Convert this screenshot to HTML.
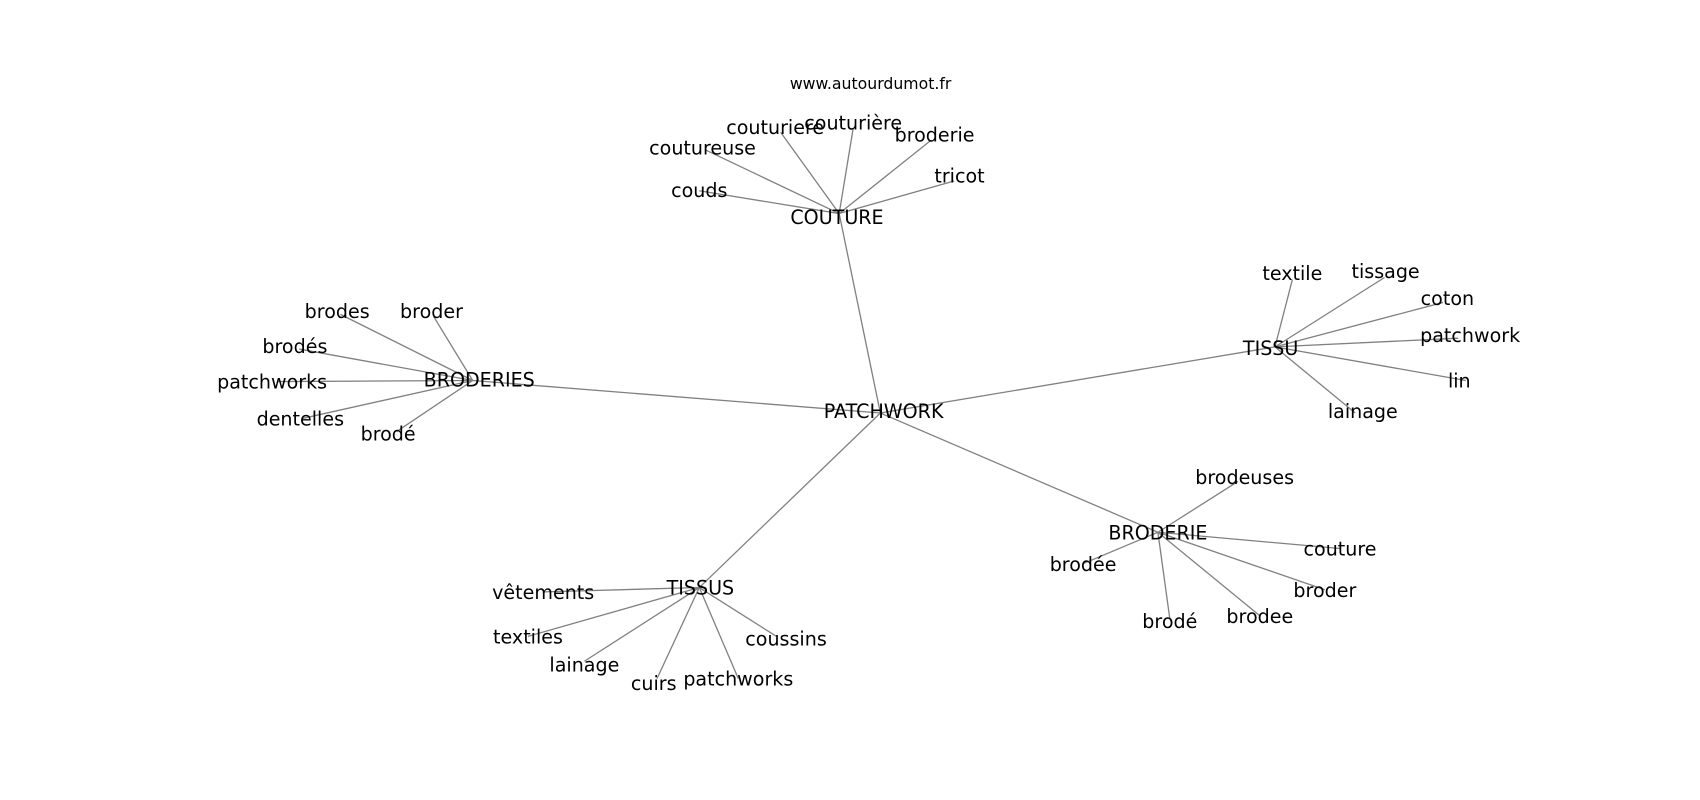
<!DOCTYPE html>
<html><head><meta charset="utf-8"><style>
html,body{margin:0;padding:0;background:#fff;}
svg{display:block}
text{font-family:"DejaVu Sans","Liberation Sans",sans-serif;fill:#000;text-anchor:middle;dominant-baseline:central;}
</style></head><body>
<svg width="1700" height="800" viewBox="0 0 1568 738" preserveAspectRatio="none" xmlns="http://www.w3.org/2000/svg">
<g stroke="#808080" stroke-width="1.2" fill="none">
<line x1="812" y1="381" x2="774" y2="197"/>
<line x1="812" y1="381" x2="1176" y2="320"/>
<line x1="812" y1="381" x2="1068" y2="491"/>
<line x1="812" y1="381" x2="645" y2="542"/>
<line x1="812" y1="381" x2="436" y2="351"/>
<line x1="774" y1="197" x2="720" y2="122"/>
<line x1="774" y1="197" x2="787" y2="118"/>
<line x1="774" y1="197" x2="858" y2="130"/>
<line x1="774" y1="197" x2="880" y2="167"/>
<line x1="774" y1="197" x2="650" y2="138"/>
<line x1="774" y1="197" x2="645" y2="176"/>
<line x1="1176" y1="320" x2="1192" y2="258"/>
<line x1="1176" y1="320" x2="1277" y2="256"/>
<line x1="1176" y1="320" x2="1331" y2="279"/>
<line x1="1176" y1="320" x2="1345" y2="312"/>
<line x1="1176" y1="320" x2="1352" y2="351"/>
<line x1="1176" y1="320" x2="1250" y2="381"/>
<line x1="436" y1="351" x2="314" y2="290"/>
<line x1="436" y1="351" x2="400" y2="292"/>
<line x1="436" y1="351" x2="276" y2="322"/>
<line x1="436" y1="351" x2="256" y2="352"/>
<line x1="436" y1="351" x2="279" y2="386"/>
<line x1="436" y1="351" x2="366" y2="398"/>
<line x1="1068" y1="491" x2="1142" y2="444"/>
<line x1="1068" y1="491" x2="1236" y2="506"/>
<line x1="1068" y1="491" x2="1222" y2="544"/>
<line x1="1068" y1="491" x2="1162" y2="568"/>
<line x1="1068" y1="491" x2="1079" y2="571"/>
<line x1="1068" y1="491" x2="999" y2="520"/>
<line x1="645" y1="542" x2="501" y2="546"/>
<line x1="645" y1="542" x2="487" y2="587"/>
<line x1="645" y1="542" x2="539" y2="610"/>
<line x1="645" y1="542" x2="606" y2="626"/>
<line x1="645" y1="542" x2="681" y2="626"/>
<line x1="645" y1="542" x2="716" y2="587"/>
</g>
<g font-size="17.6" transform="translate(0,1)">
<text x="815" y="379">PATCHWORK</text>
<text x="772" y="200">COUTURE</text>
<text x="1172" y="321">TISSU</text>
<text x="1068" y="491">BRODERIE</text>
<text x="646" y="542">TISSUS</text>
<text x="442" y="350">BRODERIES</text>
<text x="715" y="117">couturiere</text>
<text x="787" y="113">couturière</text>
<text x="862" y="124">broderie</text>
<text x="885" y="162">tricot</text>
<text x="648" y="136">coutureuse</text>
<text x="645" y="175">couds</text>
<text x="1192" y="252">textile</text>
<text x="1278" y="250">tissage</text>
<text x="1335" y="275">coton</text>
<text x="1356" y="309">patchwork</text>
<text x="1346" y="351">lin</text>
<text x="1257" y="379">lainage</text>
<text x="311" y="287">brodes</text>
<text x="398" y="287">broder</text>
<text x="272" y="319">brodés</text>
<text x="251" y="352">patchworks</text>
<text x="277" y="386">dentelles</text>
<text x="358" y="400">brodé</text>
<text x="1148" y="440">brodeuses</text>
<text x="1236" y="506">couture</text>
<text x="1222" y="544">broder</text>
<text x="1162" y="568">brodee</text>
<text x="1079" y="573">brodé</text>
<text x="999" y="520">brodée</text>
<text x="501" y="546">vêtements</text>
<text x="487" y="587">textiles</text>
<text x="539" y="613">lainage</text>
<text x="603" y="630">cuirs</text>
<text x="681" y="626">patchworks</text>
<text x="725" y="589">coussins</text>
</g>
<text x="803" y="77" font-size="14.5">www.autourdumot.fr</text>
</svg>
</body></html>
